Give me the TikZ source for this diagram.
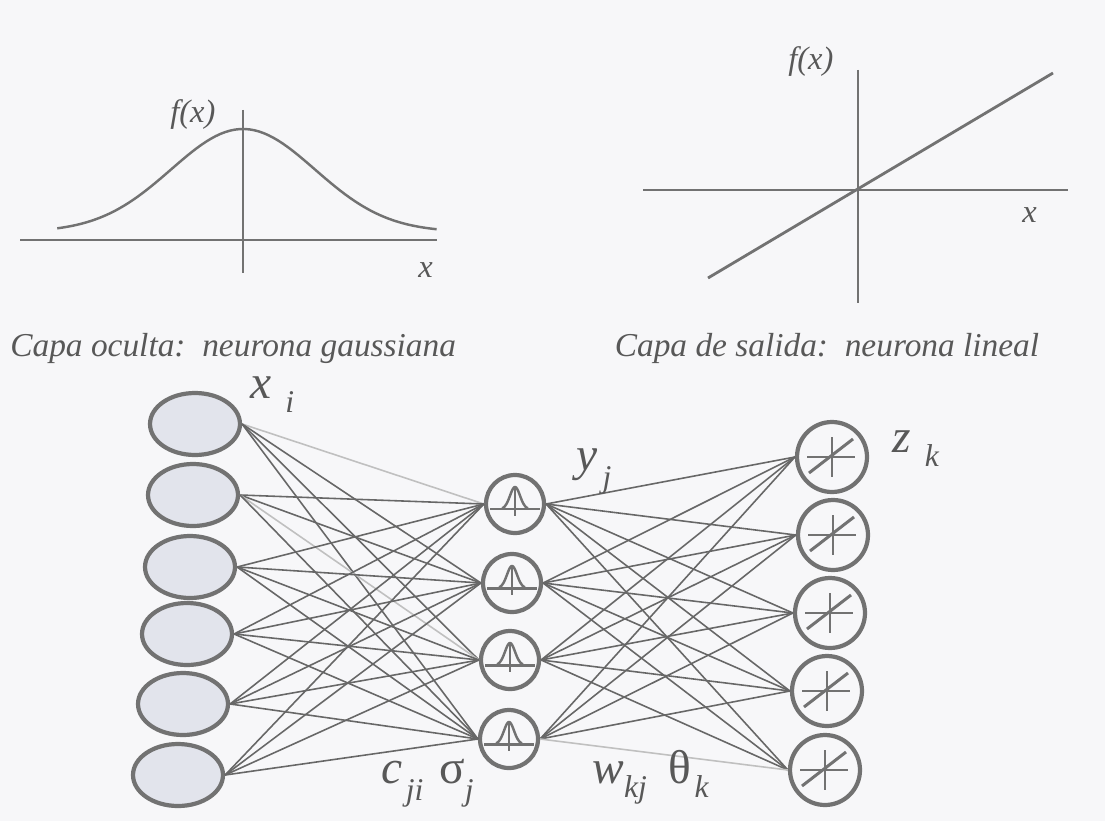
\documentclass[tikz,border=0pt]{standalone}
\usepackage{fontspec}
\setmainfont{Liberation Serif}
\usetikzlibrary{shapes.geometric}
\definecolor{paper}{HTML}{F7F7F9}
\definecolor{ink}{HTML}{727272}
\definecolor{txt}{HTML}{585858}
\definecolor{ellfill}{HTML}{E2E4EC}
\newcommand{\capfont}{\fontsize{19}{21}\selectfont\itshape}
\newcommand{\axfont}{\fontsize{18.5}{20}\selectfont\itshape}
\newcommand{\symfont}{\fontsize{27}{29}\selectfont\itshape}
\newcommand{\subfont}{\fontsize{18}{20}\selectfont\itshape}

\begin{document}
\begin{tikzpicture}[x=0.02cm,y=-0.02cm,
inp/.style={ellipse,draw=ink,line width=2.4pt,fill=ellfill,minimum width=1.8cm,minimum height=1.24cm,inner sep=0pt},
hid/.style={circle,draw=ink,line width=2.4pt,fill=paper,minimum size=1.16cm,inner sep=0pt},
outn/.style={circle,draw=ink,line width=2.4pt,fill=paper,minimum size=1.4cm,inner sep=0pt},
link/.style={line width=0.9pt},
axis/.style={draw=ink,line width=1.6pt},
lbl/.style={inner sep=0pt,anchor=base west,text=txt}]
\fill[paper] (0,0) rectangle (1105,821);
\useasboundingbox (0,0) rectangle (1105,821);

% gaussian plot
\draw[axis] (20,240) -- (437,240);
\draw[axis] (243,110) -- (243,273);
\draw[ink,line width=1.4pt] plot[domain=-2.58:2.69,samples=80] ({243+72*\x},{232-103*exp(-\x*\x/2)});
\node[lbl] (fx1) at (170,122) {\axfont f(x)};
\node[lbl] (x1) at (418,277) {\axfont x};

% linear plot
\draw[axis] (643,190) -- (1068,190);
\draw[axis] (858,70) -- (858,303);
\draw[ink,line width=1.6pt] (708,278) -- (1053,73);
\node[lbl] (fx2) at (788,70) {\axfont f(x)};
\node[lbl] (x2) at (1022,222) {\axfont x};

\node[lbl] (cap1) at (10,356) {\capfont Capa oculta:\ \ neurona gaussiana};
\node[lbl,anchor=base] (cap2) at (827,356) {\capfont Capa de salida:\ \ neurona lineal};

% network
\node[inp] (I1) at (195,424) {};
\node[inp] (I2) at (193,495) {};
\node[inp] (I3) at (190,567) {};
\node[inp] (I4) at (187,634) {};
\node[inp] (I5) at (183,704) {};
\node[inp] (I6) at (178,775) {};
\node[hid] (H1) at (515,504) {};
\node[hid] (H2) at (512,583) {};
\node[hid] (H3) at (510,660) {};
\node[hid] (H4) at (509,739) {};
\node[outn] (O1) at (832,457) {};
\node[outn] (O2) at (833,535) {};
\node[outn] (O3) at (830,613) {};
\node[outn] (O4) at (827,691) {};
\node[outn] (O5) at (825,770) {};

\foreach \i in {1,...,6}
  \foreach \j in {1,...,4}{
    \def\lc{ink!90!black}
    \ifnum\i\j=11 \def\lc{ink!45}\fi
    \ifnum\i\j=23 \def\lc{ink!45}\fi
    \draw[link,draw=\lc] (I\i.east) -- (H\j.west);
  }
\foreach \j in {1,...,4}
  \foreach \k in {1,...,5}{
    \def\lc{ink!90!black}
    \ifnum\j\k=45 \def\lc{ink!45}\fi
    \draw[link,draw=\lc] (H\j.east) -- (O\k.west);
  }

\foreach \n in {H1,H2,H3,H4}{
  \begin{scope}[shift={(\n)}]
    \draw[ink,line width=1.7pt] (-25,5) -- (25,5);
    \draw[ink,line width=1.4pt] plot[domain=-2.6:2.6,samples=40] ({5*\x},{5-22*exp(-\x*\x/2)});
    \draw[ink,line width=0.9pt] (0,-17) -- (0,12);
  \end{scope}}
\foreach \n in {O1,O2,O3,O4,O5}{
  \begin{scope}[shift={(\n)}]
    \draw[ink,line width=0.9pt] (-25,0) -- (23,0) (0,-20) -- (0,20);
    \draw[ink,line width=1.7pt] (-23,16) -- (21,-18);
  \end{scope}}

\node[lbl] (xi) at (250,398) {\symfont x\hspace{8pt}\raisebox{-8pt}{\subfont i}};
\node[lbl] (yj) at (576,470) {\symfont y\hspace{3pt}\raisebox{-10pt}{\subfont j}};
\node[lbl] (zk) at (892,452) {\symfont z\hspace{8pt}\raisebox{-8pt}{\subfont k}};
\node[lbl] (cji) at (381,783) {\symfont c\hspace{2pt}\raisebox{-10pt}{\subfont ji}};
\node[lbl] (sj) at (439,783) {\symfont\upshape σ\raisebox{-10pt}{\subfont j}};
\node[lbl] (wkj) at (592,783) {\symfont w\raisebox{-8pt}{\subfont kj}};
\node[lbl] (tk) at (668,783) {\symfont\upshape θ\hspace{2pt}\raisebox{-8pt}{\subfont k}};
\end{tikzpicture}
\end{document}
